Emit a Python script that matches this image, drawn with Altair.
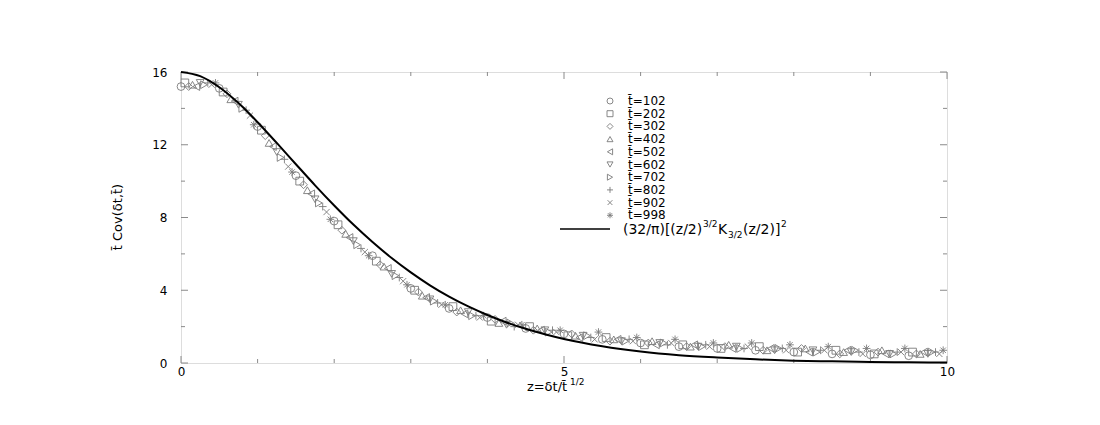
import altair as alt
import pandas as pd

# ---------------- data ----------------
LABELS = ["t̄=102", "t̄=202", "t̄=302", "t̄=402", "t̄=502",
          "t̄=602", "t̄=702", "t̄=802", "t̄=902", "t̄=998"]

Z_102 = [0.0, 0.5, 1.0, 1.5, 2.0, 2.5, 3.0, 3.5, 4.0, 4.5, 5.0, 5.5, 6.0, 6.5, 7.0, 7.5, 8.0, 8.5, 9.0, 9.5]
V_102 = [15.2, 15.1, 13.0, 10.3, 7.8, 5.9, 4.1, 3.0, 2.5, 1.9, 1.6, 1.3, 1.1, 0.9, 0.8, 0.7, 0.6, 0.5, 0.45, 0.4]

Z_202 = [0.05, 0.55, 1.05, 1.55, 2.05, 2.55, 3.05, 3.55, 4.05, 4.55, 5.05, 5.55, 6.05, 6.55, 7.05, 7.55, 8.05, 8.55, 9.05, 9.55]
V_202 = [15.4, 14.9, 12.8, 10.0, 7.6, 5.6, 4.0, 3.1, 2.3, 2.0, 1.5, 1.4, 1.0, 1.0, 0.8, 0.9, 0.6, 0.7, 0.5, 0.6]

Z_302 = [0.1, 0.6, 1.1, 1.6, 2.1, 2.6, 3.1, 3.6, 4.1, 4.6, 5.1, 5.6, 6.1, 6.6, 7.1, 7.6, 8.1, 8.6, 9.1, 9.6]
V_302 = [15.2, 14.8, 12.5, 9.8, 7.3, 5.4, 3.9, 2.8, 2.4, 1.8, 1.6, 1.2, 1.1, 0.9, 0.9, 0.7, 0.8, 0.5, 0.6, 0.5]

Z_402 = [0.15, 0.65, 1.15, 1.65, 2.15, 2.65, 3.15, 3.65, 4.15, 4.65, 5.15, 5.65, 6.15, 6.65, 7.15, 7.65, 8.15, 8.65, 9.15, 9.65]
V_402 = [15.3, 14.5, 12.1, 9.5, 7.1, 5.3, 3.7, 2.9, 2.2, 1.9, 1.5, 1.3, 1.2, 0.9, 1.0, 0.7, 0.8, 0.6, 0.7, 0.5]

Z_502 = [0.2, 0.7, 1.2, 1.7, 2.2, 2.7, 3.2, 3.7, 4.2, 4.7, 5.2, 5.7, 6.2, 6.7, 7.2, 7.7, 8.2, 8.7, 9.2, 9.7]
V_502 = [15.2, 14.4, 11.9, 9.3, 6.9, 5.2, 3.6, 2.7, 2.3, 1.8, 1.4, 1.3, 1.0, 1.0, 0.8, 0.8, 0.6, 0.7, 0.5, 0.6]

Z_602 = [0.25, 0.75, 1.25, 1.75, 2.25, 2.75, 3.25, 3.75, 4.25, 4.75, 5.25, 5.75, 6.25, 6.75, 7.25, 7.75, 8.25, 8.75, 9.25, 9.75]
V_602 = [15.4, 14.2, 11.6, 9.0, 6.7, 4.9, 3.5, 2.8, 2.1, 1.8, 1.5, 1.2, 1.1, 0.9, 0.9, 0.7, 0.7, 0.6, 0.5, 0.5]

Z_702 = [0.3, 0.8, 1.3, 1.8, 2.3, 2.8, 3.3, 3.8, 4.3, 4.8, 5.3, 5.8, 6.3, 6.8, 7.3, 7.8, 8.3, 8.8, 9.3, 9.8]
V_702 = [15.3, 14.0, 11.3, 8.8, 6.5, 4.8, 3.4, 2.6, 2.2, 1.7, 1.5, 1.2, 1.1, 0.9, 0.8, 0.8, 0.6, 0.7, 0.5, 0.6]

Z_802 = [0.35, 0.85, 1.35, 1.85, 2.35, 2.85, 3.35, 3.85, 4.35, 4.85, 5.35, 5.85, 6.35, 6.85, 7.35, 7.85, 8.35, 8.85, 9.35, 9.85]
V_802 = [15.4, 13.9, 11.2, 8.6, 6.3, 4.7, 3.3, 2.6, 2.0, 1.8, 1.4, 1.3, 1.0, 1.0, 0.8, 0.8, 0.7, 0.6, 0.6, 0.6]

Z_902 = [0.4, 0.9, 1.4, 1.9, 2.4, 2.9, 3.4, 3.9, 4.4, 4.9, 5.4, 5.9, 6.4, 6.9, 7.4, 7.9, 8.4, 8.9, 9.4, 9.9]
V_902 = [15.3, 13.6, 10.8, 8.3, 6.1, 4.5, 3.2, 2.5, 2.1, 1.7, 1.3, 1.2, 1.1, 0.9, 0.9, 0.7, 0.7, 0.5, 0.6, 0.5]

Z_998 = [0.45, 0.95, 1.45, 1.95, 2.45, 2.95, 3.45, 3.95, 4.45, 4.95, 5.45, 5.95, 6.45, 6.95, 7.45, 7.95, 8.45, 8.95, 9.45, 9.95]
V_998 = [15.4, 13.1, 10.5, 7.9, 5.9, 4.3, 3.2, 2.6, 2.1, 1.8, 1.7, 1.4, 1.3, 1.1, 1.1, 1.0, 0.9, 0.8, 0.8, 0.7]

CURVE_Z = [0.0, 0.25, 0.5, 0.75, 1.0, 1.25, 1.5, 1.75, 2.0, 2.25, 2.5, 2.75, 3.0, 3.25, 3.5,
           3.75, 4.0, 4.25, 4.5, 4.75, 5.0, 5.5, 6.0, 6.5, 7.0, 7.5, 8.0, 8.5, 9.0, 9.5, 10.0]
CURVE_V = [16.0, 15.77, 15.16, 14.29, 13.24, 12.10, 10.93, 9.77, 8.66, 7.61, 6.65, 5.77, 4.98, 4.27, 3.65,
           3.11, 2.64, 2.23, 1.88, 1.58, 1.32, 0.92, 0.63, 0.43, 0.30, 0.20, 0.13, 0.09, 0.06, 0.04, 0.03]

X_MAJOR = [0, 5, 10]
X_MINOR = [1, 2, 3, 4, 6, 7, 8, 9]
Y_MAJOR = [0, 4, 8, 12, 16]
Y_MINOR = [2, 6, 10, 14]

# ---------------- tables ----------------
SERIES = [(Z_102, V_102), (Z_202, V_202), (Z_302, V_302), (Z_402, V_402), (Z_502, V_502),
          (Z_602, V_602), (Z_702, V_702), (Z_802, V_802), (Z_902, V_902), (Z_998, V_998)]
rows = []
for lab, (zs, vs) in zip(LABELS, SERIES):
    for z, v in zip(zs, vs):
        rows.append({"z": z, "v": v, "series": lab})
pts_df = pd.DataFrame(rows)
curve_df = pd.DataFrame({"z": CURVE_Z, "v": CURVE_V})

# ---------------- styling ----------------
W, H = 766, 291
GRAY = "#7a7a7a"
AXGRAY = "#8a8a8a"
FONT = "DejaVu Sans"

PLUS = "M-1,0L1,0M0,-1L0,1"
XCROSS = "M-0.8,-0.8L0.8,0.8M-0.8,0.8L0.8,-0.8"
STAR = "M-1,0L1,0M0,-1L0,1M-0.7,-0.7L0.7,0.7M-0.7,0.7L0.7,-0.7"
SHAPES = ["circle", "square", "diamond", "triangle-up", "triangle-left",
          "triangle-down", "triangle-right", PLUS, XCROSS, STAR]

xs = alt.Scale(domain=[0, 10], nice=False, zero=False)
ys = alt.Scale(domain=[0, 16], nice=False, zero=False)
X_AX = alt.Axis(values=X_MAJOR, ticks=False, domain=False, grid=False, title=None, labelFlush=False,
                labelFont=FONT, labelFontSize=12, labelColor="black", labelPadding=3, format="d")
Y_AX = alt.Axis(values=Y_MAJOR, ticks=False, domain=False, grid=False, title=None, labelFlush=False,
                labelFont=FONT, labelFontSize=12, labelColor="black", labelPadding=14, format="d")


def xq(field):
    return alt.X(field, type="quantitative", scale=xs, axis=X_AX)


def yq(field):
    return alt.Y(field, type="quantitative", scale=ys, axis=Y_AX)


# inward ticks on all four sides
def xticks(vals, length):
    d = pd.DataFrame({"t": vals})
    bottom = alt.Chart(d).mark_rule(color=AXGRAY, strokeWidth=1).encode(
        x=xq("t"), y=alt.value(H), y2=alt.value(H - length))
    top = alt.Chart(d).mark_rule(color=AXGRAY, strokeWidth=1).encode(
        x=xq("t"), y=alt.value(0), y2=alt.value(length))
    return [bottom, top]


def yticks(vals, length):
    d = pd.DataFrame({"t": vals})
    left = alt.Chart(d).mark_rule(color=AXGRAY, strokeWidth=1).encode(
        y=yq("t"), x=alt.value(0), x2=alt.value(length))
    right = alt.Chart(d).mark_rule(color=AXGRAY, strokeWidth=1).encode(
        y=yq("t"), x=alt.value(W), x2=alt.value(W - length))
    return [left, right]


ticks = xticks(X_MAJOR, 7) + xticks(X_MINOR, 4) + yticks(Y_MAJOR, 7) + yticks(Y_MINOR, 4)

points = alt.Chart(pts_df).mark_point(filled=False, color=GRAY, strokeWidth=0.9, size=60, opacity=1).encode(
    x=xq("z"),
    y=yq("v"),
    shape=alt.Shape("series:N", scale=alt.Scale(domain=LABELS, range=SHAPES),
                    legend=alt.Legend(orient="none", legendX=423, legendY=23, title=None,
                                      labelFont=FONT, labelFontSize=12, labelColor="black",
                                      symbolSize=36, symbolStrokeColor=GRAY,
                                      symbolFillColor="transparent", symbolStrokeWidth=0.9,
                                      rowPadding=0.7, padding=0, labelOffset=12)),
)

curve = alt.Chart(curve_df).mark_line(color="black", strokeWidth=2, interpolate="monotone").encode(
    x=xq("z"), y=yq("v"))

ONE = alt.Data(values=[{"a": 1}])


def txt(s, x, y, size=14, angle=0, align="left", baseline="alphabetic"):
    return alt.Chart(ONE).mark_text(text=s, font=FONT, fontSize=size, align=align,
                                    baseline=baseline, angle=angle, color="black").encode(
        x=alt.value(x), y=alt.value(y))


# legend entry for the analytic curve
curve_key = alt.Chart(ONE).mark_rule(color="black", strokeWidth=1.5).encode(
    x=alt.value(379), x2=alt.value(429), y=alt.value(157))
formula = [
    txt("(32/π)[(z/2)", 442, 162),
    txt("3/2", 522, 155, size=9),
    txt("K", 537, 162),
    txt("3/2", 547, 166, size=9),
    txt("(z/2)]", 562, 162),
    txt("2", 600, 155, size=9),
]

# axis titles
titles = [
    txt("z=δt/t̄", 366, 319, size=13, align="center"),
    txt("1/2", 389, 313, size=9),
    txt("t̄ Cov(δt,t̄)", -63, 145, size=13, angle=270, align="center", baseline="middle"),
]

chart = alt.layer(*ticks, points, curve, curve_key, *formula, *titles).properties(
    width=W, height=H,
    autosize=alt.AutoSizeParams(type="none"),
    padding={"left": 173, "top": 64, "right": 100, "bottom": 50},
).configure_view(stroke=AXGRAY, strokeWidth=1).configure(background="white")

chart.save("out.html", embed_options={"renderer": "svg", "actions": False})
